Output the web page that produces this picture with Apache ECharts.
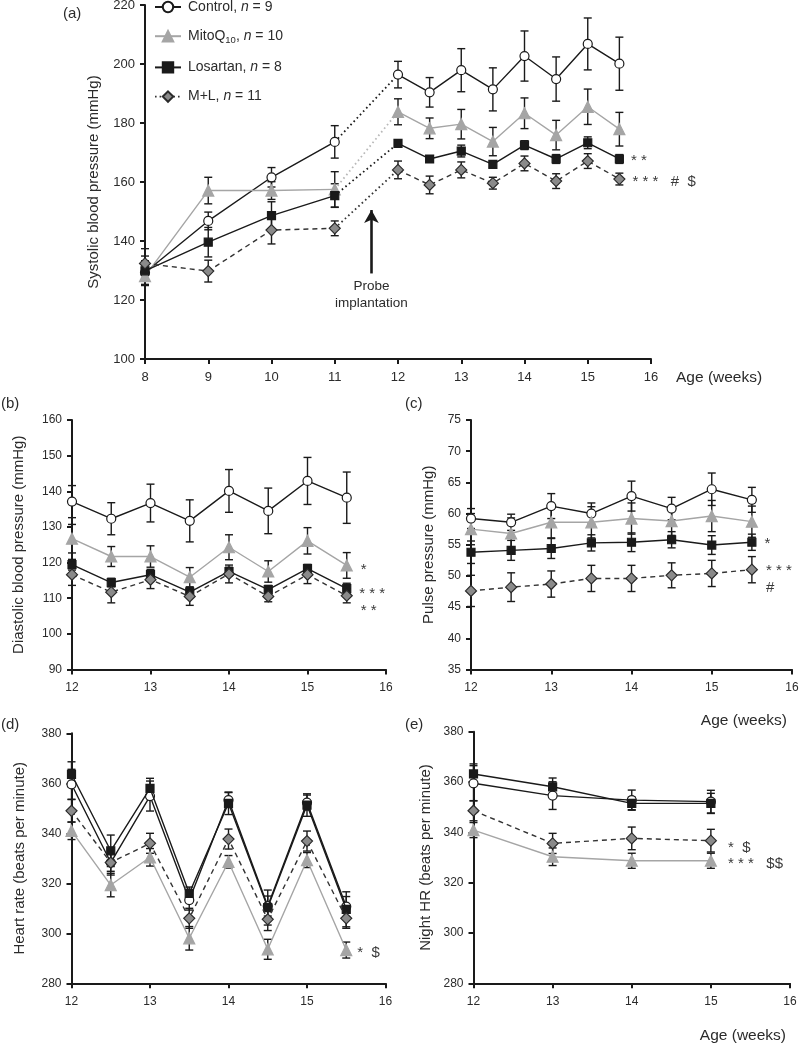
<!DOCTYPE html>
<html>
<head>
<meta charset="utf-8">
<script src="https://cdn.jsdelivr.net/npm/echarts@6/dist/echarts.min.js"></script>
<style>
  html, body { margin: 0; padding: 0; background: #fff; }
  #chart { width: 800px; height: 1043px; }
</style>
</head>
<body>
<div id="chart"></div>
<script>
// groups, in legend order
const groupNames = ['Control', 'MitoQ10', 'Losartan', 'M+L'];
const groupN = [9, 10, 8, 11];

// (a) systolic blood pressure, weeks 8-15.5 (probe implanted between 11 and 12)
const weeksA = [8, 9, 10, 11, 12, 12.5, 13, 13.5, 14, 14.5, 15, 15.5];
const sbpControl = [129.3, 146.8, 161.6, 173.6, 196.4, 190.4, 197.9, 191.4, 202.7, 194.9, 206.8, 200.1];
const sbpControlErr = [4, 3, 3.3, 5.5, 4.5, 5, 7.3, 7.3, 8.5, 7.5, 8.8, 9];
const sbpMitoQ = [128.1, 157.1, 157.1, 157.5, 183.8, 178.2, 179.6, 173.7, 183.3, 175.9, 185.5, 177.9];
const sbpMitoQErr = [3, 4.5, 3, 6, 4.4, 3.5, 5, 4.8, 5.2, 5, 6, 5.7];
const sbpLosartan = [129.9, 139.6, 148.6, 155.4, 173.1, 167.8, 170.5, 166, 172.5, 167.8, 173.3, 167.8];
const sbpLosartanErr = [5, 5, 4.7, 4, 1, 1, 2, 1, 1.5, 1.5, 2, 1.5];
const sbpML = [132.4, 129.8, 143.7, 144.3, 164.1, 159, 164.1, 159.6, 166.3, 160.3, 167.1, 161];
const sbpMLErr = [5, 3.7, 4.7, 2.5, 3, 3, 2.7, 2, 2.5, 2.5, 2.5, 2];
const starsA = ['', '', '* *', '* * *   #  $'];

// (b)-(d) telemetry, weeks 12-15.5
const weeksT = [12, 12.5, 13, 13.5, 14, 14.5, 15, 15.5];
const dbpControl = [137.1, 132.3, 136.7, 131.7, 140.1, 134.5, 142.9, 138.2];
const dbpControlErr = [4.5, 4.5, 5.3, 5.9, 6, 6.4, 6.6, 7.2];
const dbpMitoQ = [126.7, 121.7, 121.7, 115.9, 124.3, 117.5, 126.1, 119.2];
const dbpMitoQErr = [4, 2.8, 3, 2.7, 3.5, 3, 3.7, 3.6];
const dbpLosartan = [119.4, 114.4, 116.6, 111.7, 117.5, 112.4, 118.3, 112.7];
const dbpLosartanErr = [1.5, 1.2, 1.5, 1.2, 1.2, 1.2, 1.2, 1.5];
const dbpML = [116.6, 111.7, 115.2, 110.5, 116.8, 110.5, 116.6, 110.7];
const dbpMLErr = [3, 3, 2.5, 2.5, 2.5, 1.5, 2.5, 2];
const starsB = ['', '*', '* * *', '* *'];

const ppControl = [59.2, 58.6, 61.2, 60, 62.8, 60.8, 63.9, 62.2];
const ppControlErr = [1.6, 1.3, 2, 1.7, 2.4, 1.8, 2.6, 2];
const ppMitoQ = [57.5, 56.8, 58.6, 58.6, 59.2, 58.8, 59.6, 58.7];
const ppMitoQErr = [2.5, 2.5, 2.5, 2.5, 2.5, 2.3, 2.5, 2.5];
const ppLosartan = [53.8, 54.1, 54.4, 55.3, 55.4, 55.8, 54.95, 55.4];
const ppLosartanErr = [1.8, 1.6, 1.6, 1.3, 1.5, 1.3, 1.5, 1.3];
const ppML = [47.6, 48.2, 48.7, 49.6, 49.6, 50.1, 50.4, 51];
const ppMLErr = [2.5, 2.3, 2.1, 2.1, 2.1, 2, 2.1, 2.1];
const starsC = ['', '', '*', '* * *\n#'];

const hrControl = [359.6, 328.3, 354.9, 313.3, 353.3, 310.9, 352.3, 310.7];
const hrControlErr = [6, 5, 6, 4, 3, 4, 3, 4];
const hrMitoQ = [341, 319.3, 330.4, 298, 328.6, 293.6, 329.3, 293.3];
const hrMitoQErr = [3.5, 4.7, 3.5, 4.7, 2.5, 4, 3, 3.2];
const hrLosartan = [363.6, 333, 358, 316, 352, 310.3, 351.3, 309.6];
const hrLosartanErr = [5, 6.3, 4, 2.5, 4.5, 7, 4.5, 7];
const hrML = [349, 328.3, 336, 306, 337.7, 305.6, 336.9, 306];
const hrMLErr = [4.5, 3.5, 4, 4, 4, 4.5, 4, 4];
const starsD = ['', '*  $', '', ''];

// (e) night heart rate, weekly
const weeksE = [12, 13, 14, 15];
const nhrControl = [359.5, 354.6, 352.8, 352.2];
const nhrControlErr = [7, 5.5, 4, 4.5];
const nhrMitoQ = [340.9, 330.3, 328.7, 328.7];
const nhrMitoQErr = [3, 3.5, 3, 3];
const nhrLosartan = [363.2, 358.1, 351.5, 351.5];
const nhrLosartanErr = [4, 3.5, 2.5, 4];
const nhrML = [348.6, 335.6, 337.6, 336.7];
const nhrMLErr = [4, 4, 4.5, 4.5];
const starsE = ['', '* * *   $$', '', '*  $'];

// probe implantation arrow (weeks, mmHg)
const probeWeek = 11.58;
const probeArrow = [129, 150.5];

const panels = [
  { weeks: weeksA, values: [sbpControl, sbpMitoQ, sbpLosartan, sbpML],
    errors: [sbpControlErr, sbpMitoQErr, sbpLosartanErr, sbpMLErr], stars: starsA },
  { weeks: weeksT, values: [dbpControl, dbpMitoQ, dbpLosartan, dbpML],
    errors: [dbpControlErr, dbpMitoQErr, dbpLosartanErr, dbpMLErr], stars: starsB },
  { weeks: weeksT, values: [ppControl, ppMitoQ, ppLosartan, ppML],
    errors: [ppControlErr, ppMitoQErr, ppLosartanErr, ppMLErr], stars: starsC },
  { weeks: weeksT, values: [hrControl, hrMitoQ, hrLosartan, hrML],
    errors: [hrControlErr, hrMitoQErr, hrLosartanErr, hrMLErr], stars: starsD },
  { weeks: weeksE, values: [nhrControl, nhrMitoQ, nhrLosartan, nhrML],
    errors: [nhrControlErr, nhrMitoQErr, nhrLosartanErr, nhrMLErr], stars: starsE }
];

// layout + styling
const FONT = '"Liberation Sans", Arial, Helvetica, sans-serif';
const INK = '#1a1a1a';
const TXT = '#2b2b2b';

const layout = [
  { left: 145, top: 5, width: 506, height: 354 },
  { left: 72, top: 420, width: 314, height: 249.5 },
  { left: 471, top: 420, width: 321, height: 249.5 },
  { left: 71.5, top: 733.3, width: 314, height: 250 },
  { left: 473.5, top: 731.7, width: 316.5, height: 251.6 }
];
const xRange = [[8, 16], [12, 16], [12, 16], [12, 16], [12, 16]];
const yRange = [[100, 220, 20], [90, 160, 10], [35, 75, 5], [280, 380, 20], [280, 380, 20]];
const yTitles = ['Systolic blood pressure (mmHg)', 'Diastolic blood pressure (mmHg)',
  'Pulse pressure (mmHg)', 'Heart rate (beats per minute)', 'Night HR (beats per minute)'];
const yTitleGap = [44, 46, 35, 44, 40];
const xTitles = ['Age (weeks)', '', 'Age (weeks)', '', 'Age (weeks)'];
const xTitleStyle = [
  { gap: 25, align: 'left', pad: 11 },
  null,
  { gap: -5, align: 'right', pad: 43 },
  null,
  { gap: -4, align: 'right', pad: 44 }
];
const labelSize = [13, 12, 12, 12, 12];

const groupStyle = [
  { symbol: 'circle', size: 9, line: INK, fill: '#fff', border: INK, type: 'solid', dot: INK },
  { symbol: 'triangle', size: 11, line: '#a5a5a5', fill: '#a5a5a5', border: '#a5a5a5', type: 'solid', dot: '#b8b8b8' },
  { symbol: 'rect', size: 8, line: INK, fill: INK, border: INK, type: 'solid', dot: INK },
  { symbol: 'diamond', size: 11, line: '#333', fill: '#8a8a8a', border: '#2a2a2a', type: [5, 4], dot: '#333' }
];
// per-panel label offsets for the significance marks
const starOffset = [
  [null, null, [0, 2], [0, 3]],
  [null, [0, 4], [0, 5], [0, 15]],
  [null, null, [0, 2], [0, 10]],
  [null, [0, 3], null, null],
  [null, [0, 3], null, [0, 7]]
];
const starDistance = [7, 8, 8, 5, 11];

const series = [];
panels.forEach((p, gi) => {
  // segments: panel (a) is split around probe implantation
  const n = p.weeks.length;
  const segments = gi === 0
    ? [{ from: 0, to: 3 }, { from: 3, to: 4, dotted: true }, { from: 4, to: n - 1 }]
    : [{ from: 0, to: n - 1 }];

  p.values.forEach((ys, k) => {
    const st = groupStyle[k];
    segments.forEach(seg => {
      const data = [];
      for (let i = seg.from; i <= seg.to; i++) {
        const item = { value: [p.weeks[i], ys[i]] };
        if (i === n - 1 && p.stars[k]) {
          item.label = {
            show: true, position: 'right', distance: starDistance[gi],
            formatter: p.stars[k], offset: starOffset[gi][k] || [0, 0],
            color: '#3a3a3a', fontSize: 15, lineHeight: 17, fontFamily: FONT
          };
        }
        data.push(item);
      }
      series.push({
        name: groupNames[k], type: 'line', xAxisIndex: gi, yAxisIndex: gi,
        data, symbol: st.symbol, symbolSize: st.size,
        showSymbol: !seg.dotted,
        lineStyle: {
          color: seg.dotted ? st.dot : st.line, width: seg.dotted ? 1.8 : 1.4,
          type: seg.dotted ? [1.6, 3] : st.type
        },
        itemStyle: { color: st.fill, borderColor: st.border, borderWidth: 1.2 },
        z: 3 + k * 0.1, silent: true, animation: false
      });
    });

    const es = p.errors[k];
    series.push({
      name: groupNames[k] + ' SEM', type: 'custom', xAxisIndex: gi, yAxisIndex: gi,
      data: p.weeks.map((w, i) => [w, ys[i], es[i]]),
      encode: { x: 0, y: 1 }, silent: true, z: 1, animation: false,
      renderItem: (params, api) => {
        const x = api.value(0), y = api.value(1), e = api.value(2);
        const hi = api.coord([x, y + e]), lo = api.coord([x, y - e]);
        const cap = 4;
        const style = { stroke: INK, lineWidth: 1.4 };
        return {
          type: 'group', children: [
            { type: 'line', shape: { x1: hi[0], y1: hi[1], x2: lo[0], y2: lo[1] }, style },
            { type: 'line', shape: { x1: hi[0] - cap, y1: hi[1], x2: hi[0] + cap, y2: hi[1] }, style },
            { type: 'line', shape: { x1: lo[0] - cap, y1: lo[1], x2: lo[0] + cap, y2: lo[1] }, style }
          ]
        };
      }
    });
  });
});

// probe implantation arrow in panel (a)
series.push({
  name: 'probe', type: 'line', xAxisIndex: 0, yAxisIndex: 0, data: [],
  silent: true, animation: false,
  markLine: {
    silent: true, animation: false,
    symbol: ['none', 'arrow'], symbolSize: [11, 13],
    lineStyle: { color: INK, width: 2.6, type: 'solid' },
    label: {
      show: true, position: 'start', distance: 4, formatter: 'Probe\nimplantation',
      color: TXT, fontSize: 13.5, lineHeight: 17, fontFamily: FONT
    },
    data: [[{ coord: [probeWeek, probeArrow[0]] }, { coord: [probeWeek, probeArrow[1]] }]]
  }
});

const grid = layout.map(l => Object.assign({ outerBoundsMode: 'none', containLabel: false }, l));

const xAxis = layout.map((l, gi) => {
  const t = xTitleStyle[gi];
  return {
    type: 'value', gridIndex: gi, min: xRange[gi][0], max: xRange[gi][1], interval: 1,
    axisLine: { show: true, onZero: false, lineStyle: { color: INK, width: 2 } },
    axisTick: { show: true, length: 5, lineStyle: { color: INK, width: 2 } },
    axisLabel: { color: TXT, fontSize: labelSize[gi], margin: 12, fontFamily: FONT },
    splitLine: { show: false },
    name: xTitles[gi], nameLocation: 'end', nameGap: t ? t.gap : 0,
    nameTextStyle: t ? {
      color: TXT, fontSize: 15.5, fontFamily: FONT, align: t.align,
      verticalAlign: 'top', padding: [t.pad, 0, 0, 0]
    } : {}
  };
});

const yAxis = layout.map((l, gi) => ({
  type: 'value', gridIndex: gi, min: yRange[gi][0], max: yRange[gi][1], interval: yRange[gi][2],
  axisLine: { show: true, onZero: false, lineStyle: { color: INK, width: 2 } },
  axisTick: { show: true, length: 5, lineStyle: { color: INK, width: 2 } },
  axisLabel: { color: TXT, fontSize: labelSize[gi], margin: 10, fontFamily: FONT },
  splitLine: { show: false },
  name: yTitles[gi], nameLocation: 'middle', nameGap: yTitleGap[gi],
  nameTextStyle: { color: TXT, fontSize: 15, fontFamily: FONT }
}));

const legendText = {
  'Control': '{t|Control, }{i|n}{t| = ' + groupN[0] + '}',
  'MitoQ10': '{t|MitoQ}{s|10}{t|, }{i|n}{t| = ' + groupN[1] + '}',
  'Losartan': '{t|Losartan, }{i|n}{t| = ' + groupN[2] + '}',
  'M+L': '{t|M+L, }{i|n}{t| = ' + groupN[3] + '}'
};

const panelLetters = [
  { text: '(a)', left: 63, top: 6 },
  { text: '(b)', left: 1, top: 396 },
  { text: '(c)', left: 405, top: 396 },
  { text: '(d)', left: 1, top: 717 },
  { text: '(e)', left: 405, top: 717 }
];

const chart = echarts.init(document.getElementById('chart'));
chart.setOption({
  animation: false,
  backgroundColor: '#fff',
  grid, xAxis, yAxis, series,
  legend: {
    orient: 'vertical', left: 149, top: -5,
    itemWidth: 26, itemHeight: 13, itemGap: 15.2,
    selectedMode: false,
    data: [
      { name: 'Control' },
      { name: 'MitoQ10' },
      { name: 'Losartan' },
      { name: 'M+L', lineStyle: { type: [1.6, 3], width: 1.8 } }
    ],
    formatter: name => legendText[name],
    textStyle: {
      padding: [0, 0, 0, 2],
      rich: {
        t: { fontSize: 14, color: TXT, fontFamily: FONT, lineHeight: 18 },
        i: { fontSize: 14, color: TXT, fontFamily: FONT, fontStyle: 'italic', lineHeight: 18 },
        s: { fontSize: 9.5, color: TXT, fontFamily: FONT, lineHeight: 9, verticalAlign: 'bottom' }
      }
    }
  },
  graphic: panelLetters.map(p => ({
    type: 'text', left: p.left, top: p.top, silent: true,
    style: { text: p.text, fontSize: 15, fill: TXT, fontFamily: FONT }
  }))
});
</script>
</body>
</html>
